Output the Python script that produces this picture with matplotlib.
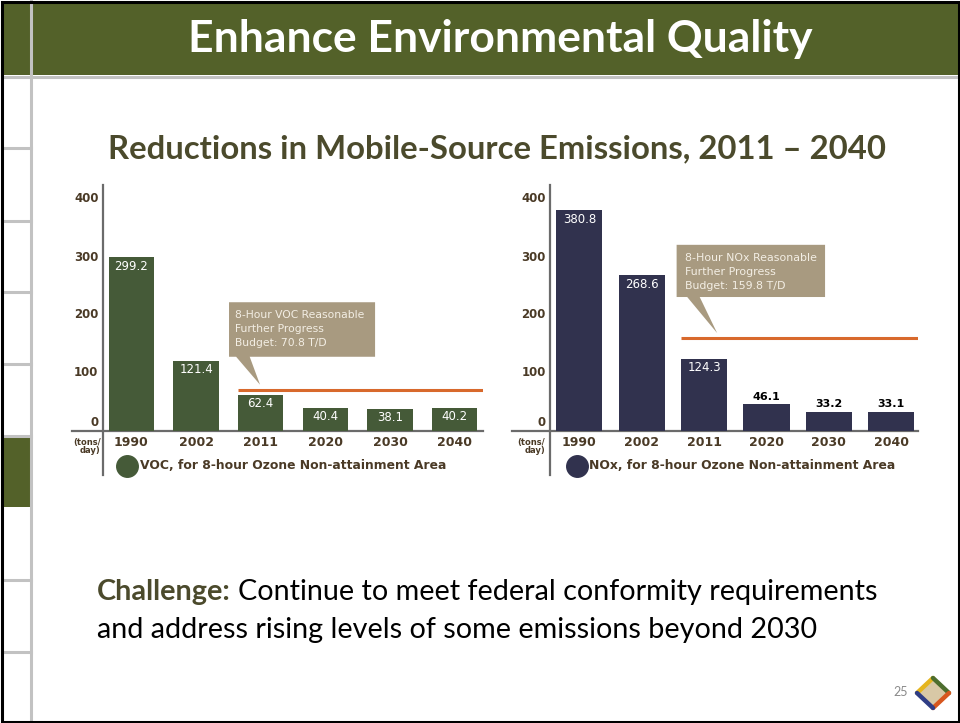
import numpy as np
import matplotlib.pyplot as plt
from matplotlib.patches import Rectangle, Polygon
from matplotlib.lines import Line2D

# slide size in pixels
W, H = 960, 723

years = ["1990", "2002", "2011", "2020", "2030", "2040"]
voc = [299.2, 121.4, 62.4, 40.4, 38.1, 40.2]
nox = [380.8, 268.6, 124.3, 46.1, 33.2, 33.1]
voc_budget = 70.8
nox_budget = 159.8
yticks = [0, 100, 200, 300, 400]

title = "Enhance Environmental Quality"
subtitle = "Reductions in Mobile-Source Emissions, 2011 \u2013 2040"
voc_note = "8-Hour VOC Reasonable\nFurther Progress\nBudget: 70.8 T/D"
nox_note = "8-Hour NOx Reasonable\nFurther Progress\nBudget: 159.8 T/D"
voc_legend = "VOC, for 8-hour Ozone Non-attainment Area"
nox_legend = "NOx, for 8-hour Ozone Non-attainment Area"

GREEN_HEAD = "#536129"
VOC_COL = "#455a38"
NOX_COL = "#31324e"
BROWN = "#4a3a26"
OLIVE = "#4b4a2c"
ORANGE = "#d8692c"
TAN = "#a89a80"
GREY = "#c2c2c2"

TITLE_FONT = ["Lato", "DejaVu Sans"]
CHART_FONT = ["DejaVu Sans"]


def fx(x):
    return x / W


def fy(y):
    return 1 - y / H


fig = plt.figure(figsize=(W / 100, H / 100), dpi=100)
renderer = fig.canvas.get_renderer()


def fit(t, width):
    w = t.get_window_extent(renderer).width
    t.set_fontsize(t.get_fontsize() * width / w)


# ---- slide frame ----
fig.patches.append(Rectangle((fx(3), fy(75)), fx(957), 72 / H, transform=fig.transFigure,
                             facecolor=GREEN_HEAD, edgecolor="none", zorder=0))
fig.lines.append(Line2D([fx(3), fx(960)], [fy(76.5), fy(76.5)], transform=fig.transFigure,
                        color=GREY, lw=2.2))
fig.lines.append(Line2D([fx(31), fx(31)], [fy(0), fy(723)], transform=fig.transFigure,
                        color=GREY, lw=2.2))
for yy in [148, 221, 292, 364, 436, 580, 652]:
    fig.lines.append(Line2D([fx(3), fx(31)], [fy(yy), fy(yy)], transform=fig.transFigure,
                            color=GREY, lw=2.2))
fig.patches.append(Rectangle((fx(3), fy(507)), fx(27), 69 / H, transform=fig.transFigure,
                             facecolor=GREEN_HEAD, edgecolor="none"))
fig.patches.append(Rectangle((fx(1.5), fy(721.5)), fx(957), 720 / H, transform=fig.transFigure,
                             facecolor="none", edgecolor="black", lw=2.2, zorder=10))

t = fig.text(fx(500), fy(52), title, color="white", fontweight="bold", family=TITLE_FONT,
             fontsize=26, ha="center", va="baseline")
fit(t, 624)
t = fig.text(fx(497), fy(158), subtitle, color=OLIVE, fontweight="bold", family=TITLE_FONT,
             fontsize=20, ha="center", va="baseline")
fit(t, 780)

# ---- bottom text ----
t1 = fig.text(fx(97), fy(600), "Challenge:", color=OLIVE, fontweight="bold",
              family=TITLE_FONT, fontsize=18, ha="left", va="baseline")
b = t1.get_window_extent(renderer)
t2 = fig.text(b.x1 / W + 6 / W, fy(600), "Continue to meet federal conformity requirements",
              color="black", family=TITLE_FONT, fontsize=18, ha="left", va="baseline")
total = t2.get_window_extent(renderer).x1 - b.x0
scale = 779 / total
t1.set_fontsize(18 * scale)
t2.set_fontsize(18 * scale)
b = t1.get_window_extent(renderer)
t2.set_x(b.x1 / W + 6 * scale / W)
fig.text(fx(97), fy(638), "and address rising levels of some emissions beyond 2030",
         color="black", family=TITLE_FONT, fontsize=18 * scale, ha="left", va="baseline")

# page number and logo
fig.text(fx(901), fy(692), "25", color="#8a8a8a", fontsize=9, ha="center", va="center",
         family=TITLE_FONT)
cx, cy, rx, ry = 933, 693, 16, 15
pts = [(cx - rx, cy), (cx, cy - ry), (cx + rx, cy), (cx, cy + ry)]
fig.patches.append(Polygon([(fx(p[0]), fy(p[1])) for p in pts], closed=True,
                           transform=fig.transFigure, facecolor="#d8c8a6", edgecolor="none"))
for (a, c), col in zip([(0, 1), (1, 2), (2, 3), (3, 0)],
                       ["#e5b51f", "#4d6e2e", "#d7571f", "#2f3d85"]):
    fig.lines.append(Line2D([fx(pts[a][0]), fx(pts[c][0])], [fy(pts[a][1]), fy(pts[c][1])],
                            transform=fig.transFigure, color=col, lw=3.2,
                            solid_capstyle="round"))


# ---- charts ----
PX_PER_UNIT = 0.58  # pixels per ton/day
BASE = 431          # baseline pixel row


def chart(left, right, xlim, values, color, width, budget, note, note_box, note_text,
          legend, leg_x, units_x, axis_left, inside_min):
    ax = fig.add_axes([fx(left), fy(475), (right - left) / W, 290 / H])
    ax.set_xlim(*xlim)
    ax.set_ylim(-(475 - BASE) / PX_PER_UNIT, (BASE - 185) / PX_PER_UNIT)
    ax.patch.set_alpha(0)
    for s in ["top", "right", "bottom"]:
        ax.spines[s].set_visible(False)
    ax.spines["left"].set_color("#6b6b6b")
    ax.spines["left"].set_linewidth(1.6)
    ax.set_xticks([])
    ax.set_yticks([])

    ax.axhline(0, xmin=-(left - axis_left) / (right - left), xmax=1, color="#6b6b6b",
               lw=1.6, clip_on=False, zorder=1)
    x = np.arange(len(values))
    ax.bar(x, values, width=width, color=color, zorder=2)

    for i, v in enumerate(values):
        if v > inside_min:
            ax.annotate(f"{v}", (i, v), xytext=(0, -6.5), textcoords="offset points",
                        ha="center", va="center", color="white", fontsize=8.5, zorder=3)
        else:
            ax.annotate(f"{v}", (i, v), xytext=(0, 5.5), textcoords="offset points",
                        ha="center", va="center", color="black", fontsize=8,
                        fontweight="bold", zorder=3)

    for v in yticks:
        ax.text(-0.012, v + (14 if v == 0 else 0), str(v), transform=ax.get_yaxis_transform(),
                ha="right", va="center", color=BROWN, fontsize=8.5, fontweight="bold")
    for i, lab in enumerate(years):
        ax.text(i, -19, lab, ha="center", va="center", color=BROWN, fontsize=9,
                fontweight="bold")
    ax.text(units_x, -27, "(tons/\nday)", ha="right", va="center", color=BROWN,
            fontsize=6, fontweight="bold", linespacing=0.9)

    # budget line
    ax.plot([2 - width / 2, xlim[1]], [budget, budget], color=ORANGE, lw=2.2, zorder=2,
            solid_capstyle="butt")

    # callout
    x0, x1, y0, y1, b0, b1, tipx = note_box
    poly = [(x0, y1), (x1, y1), (x1, y0), (b1, y0), (tipx, budget + 9), (b0, y0), (x0, y0)]
    ax.add_patch(Polygon(poly, closed=True, facecolor=TAN, edgecolor="none", zorder=3))
    tx, ty = note_text
    nt = ax.text(tx, ty, note, ha="left", va="center", color="#f3eee4", fontsize=7,
                 linespacing=1.55, zorder=4)
    fit(nt, (x1 - x0) * (right - left) / (xlim[1] - xlim[0]) - 16)

    # legend
    ax.plot([leg_x], [-60], "o", ms=15.5, color=color, clip_on=False)
    lt = ax.text(leg_x + 0.2, -60, legend, ha="left", va="center", color=BROWN,
                 fontsize=9, fontweight="bold", family=CHART_FONT)
    fit(lt, 308)
    return ax


chart(103, 483, (-0.44, 5.44), voc, VOC_COL, 0.7, voc_budget, voc_note,
      (1.51, 3.77, 128, 222, 1.62, 1.83, 1.99), (1.60, 176), voc_legend, -0.07, -0.48, 72, 0)
chart(550, 918, (-0.47, 5.43), nox, NOX_COL, 0.74, nox_budget, nox_note,
      (1.56, 3.94, 231, 321, 1.73, 1.93, 2.21), (1.69, 274), nox_legend, -0.04, -0.55, 512, 100)

fig.savefig("out.png", dpi=100)
